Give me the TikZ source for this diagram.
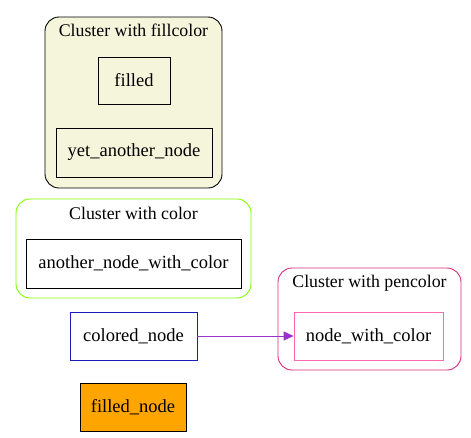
\documentclass[tikz,border=0pt]{standalone}
\usepackage{fontspec}
\setmainfont{Liberation Serif}
\usetikzlibrary{arrows.meta}
\definecolor{beige}{HTML}{F5F5DC}
\definecolor{chart}{HTML}{7FFF00}
\definecolor{pencl}{HTML}{D62A7E}
\definecolor{hpink}{HTML}{FF69B4}
\definecolor{orng}{HTML}{FFA500}
\definecolor{edgec}{HTML}{9932CC}
\definecolor{nblue}{HTML}{1C1CB8}
\tikzset{
  x=1pt, y=-1pt,
  nbox/.style={draw, rectangle, inner sep=0pt, font=\fontsize{18.5}{20}\selectfont, line width=0.8pt},
  clust/.style={rounded corners=14pt, line width=0.9pt},
  clabel/.style={font=\fontsize{17.8}{20}\selectfont}
}
\begin{document}
\begin{tikzpicture}
\useasboundingbox (0,0) rectangle (471,437);
% clusters
\draw[clust, fill=beige] (45,17) rectangle (222,188);
\node[clabel] (l1) at (133.5,30) {Cluster with fillcolor};
\draw[clust, draw=chart] (16,199) rectangle (251,298);
\node[clabel] (l2) at (133.5,213) {Cluster with color};
\draw[clust, draw=pencl] (278,268) rectangle (461,370);
\node[clabel] (l3) at (369.5,283) {Cluster with pencolor};
% nodes
\node[nbox, minimum width=72pt, minimum height=47pt] (filled) at (134,80.5) {filled};
\node[nbox, minimum width=156pt, minimum height=49pt] (yan) at (134,152.5) {yet\_another\_node};
\node[nbox, minimum width=215pt, minimum height=49pt] (anwc) at (133.5,263.5) {another\_node\_with\_color};
\node[nbox, draw=nblue, minimum width=127pt, minimum height=48pt] (cn) at (133.5,336) {colored\_node};
\node[nbox, draw=hpink, minimum width=149pt, minimum height=48pt] (nwc) at (368.5,336) {node\_with\_color};
\node[nbox, fill=orng, minimum width=106pt, minimum height=48pt] (fn) at (133,407) {filled\_node};
% edge
\draw[edgec, line width=0.9pt, -{Triangle[length=10pt,width=9pt]}] (cn.east) -- (nwc.west);
\end{tikzpicture}
\end{document}
